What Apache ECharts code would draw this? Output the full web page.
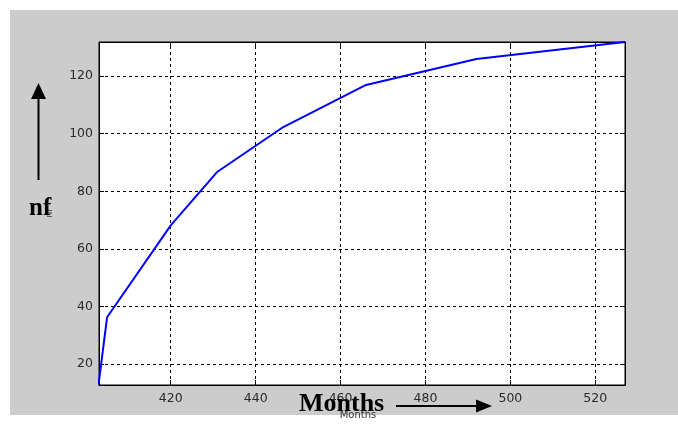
<!DOCTYPE html>
<html>
<head>
<meta charset="utf-8">
<script src="https://cdn.jsdelivr.net/npm/echarts@6/dist/echarts.min.js"></script>
<style>
html,body{margin:0;padding:0;background:#fff;}
#c{width:678px;height:425px;}
</style>
</head>
<body>
<div id="c"></div>
<script>
const months = [403, 405, 420, 431, 446.5, 466, 492, 527];
const nfValues = [13, 36.3, 68.2, 86.8, 102.3, 116.9, 125.9, 131.8];
const xTicks = [420, 440, 460, 480, 500, 520];
const yTicks = [20, 40, 60, 80, 100, 120];
const xRange = [403.1, 527];
const yRange = [12.8, 131.8];

const chart = echarts.init(document.getElementById('c'), null, {renderer: 'canvas'});

const labelStyle = {fontFamily: 'DejaVu Sans', fontSize: 12.5, color: '#2a2a2a'};

function gridLines(axisKey, vals) {
  return vals.map(v => ({[axisKey]: v}));
}

chart.setOption({
  backgroundColor: '#fff',
  animation: false,
  grid: {left: 99, top: 42, right: 53, bottom: 40, show: true, backgroundColor: '#fff', borderColor: '#000', borderWidth: 1},
  xAxis: [{
    type: 'value', min: xRange[0], max: xRange[1], position: 'bottom',
    axisLine: {show: true, onZero: false, lineStyle: {color: '#000'}},
    axisTick: {show: true, inside: true, length: 5, customValues: xTicks, lineStyle: {color: '#000'}},
    axisLabel: Object.assign({margin: 7, customValues: xTicks}, labelStyle),
    splitLine: {show: false}
  }, {
    type: 'value', min: xRange[0], max: xRange[1], position: 'top',
    axisLine: {show: true, onZero: false, lineStyle: {color: '#000'}},
    axisTick: {show: true, inside: true, length: 5, customValues: xTicks, lineStyle: {color: '#000'}},
    axisLabel: {show: false},
    splitLine: {show: false}
  }],
  yAxis: [{
    type: 'value', min: yRange[0], max: yRange[1], position: 'left',
    axisLine: {show: true, onZero: false, lineStyle: {color: '#000'}},
    axisTick: {show: true, inside: true, length: 5, customValues: yTicks, lineStyle: {color: '#000'}},
    axisLabel: Object.assign({margin: 6, customValues: yTicks}, labelStyle),
    splitLine: {show: false}
  }, {
    type: 'value', min: yRange[0], max: yRange[1], position: 'right',
    axisLine: {show: true, onZero: false, lineStyle: {color: '#000'}},
    axisTick: {show: true, inside: true, length: 5, customValues: yTicks, lineStyle: {color: '#000'}},
    axisLabel: {show: false},
    splitLine: {show: false}
  }],
  graphic: [
    {type: 'rect', shape: {x: 10, y: 10, width: 668, height: 405}, style: {fill: '#cccccc'}, z: -10, silent: true},
    {type: 'line', shape: {x1: 38.5, y1: 180, x2: 38.5, y2: 96}, style: {stroke: '#000', lineWidth: 2}, z: 10},
    {type: 'polygon', shape: {points: [[38.5, 83], [31, 99], [46, 99]]}, style: {fill: '#000'}, z: 10},
    {type: 'text', x: 50, y: 213, rotation: Math.PI / 2, style: {text: 'nf', font: '9px DejaVu Sans', fill: '#333', textVerticalAlign: 'middle', textAlign: 'center'}, z: 10},
    {type: 'text', x: 29, y: 209, style: {text: 'nf', font: 'bold 25px "Liberation Serif"', fill: '#000', textVerticalAlign: 'middle'}, z: 11},
    {type: 'text', x: 358, y: 415, style: {text: 'Months', font: '10px DejaVu Sans', fill: '#333', textAlign: 'center', textVerticalAlign: 'middle'}, z: 10},
    {type: 'text', x: 299, y: 404.5, style: {text: 'Months', font: 'bold 26px "Liberation Serif"', fill: '#000', textVerticalAlign: 'middle'}, z: 11},
    {type: 'line', shape: {x1: 396, y1: 406, x2: 482, y2: 406}, style: {stroke: '#000', lineWidth: 2}, z: 10},
    {type: 'polygon', shape: {points: [[492, 406], [476, 399.5], [476, 412.5]]}, style: {fill: '#000'}, z: 10}
  ],
  series: [{
    type: 'line',
    data: months.map((m, i) => [m, nfValues[i]]),
    showSymbol: false,
    symbol: 'none',
    lineStyle: {color: '#0000ff', width: 2},
    clip: true,
    z: 5,
    markLine: {
      silent: true, symbol: ['none', 'none'], label: {show: false},
      lineStyle: {color: '#000', type: [3, 3], width: 1},
      data: gridLines('xAxis', xTicks).concat(gridLines('yAxis', yTicks))
    }
  }]
});
</script>
</body>
</html>
